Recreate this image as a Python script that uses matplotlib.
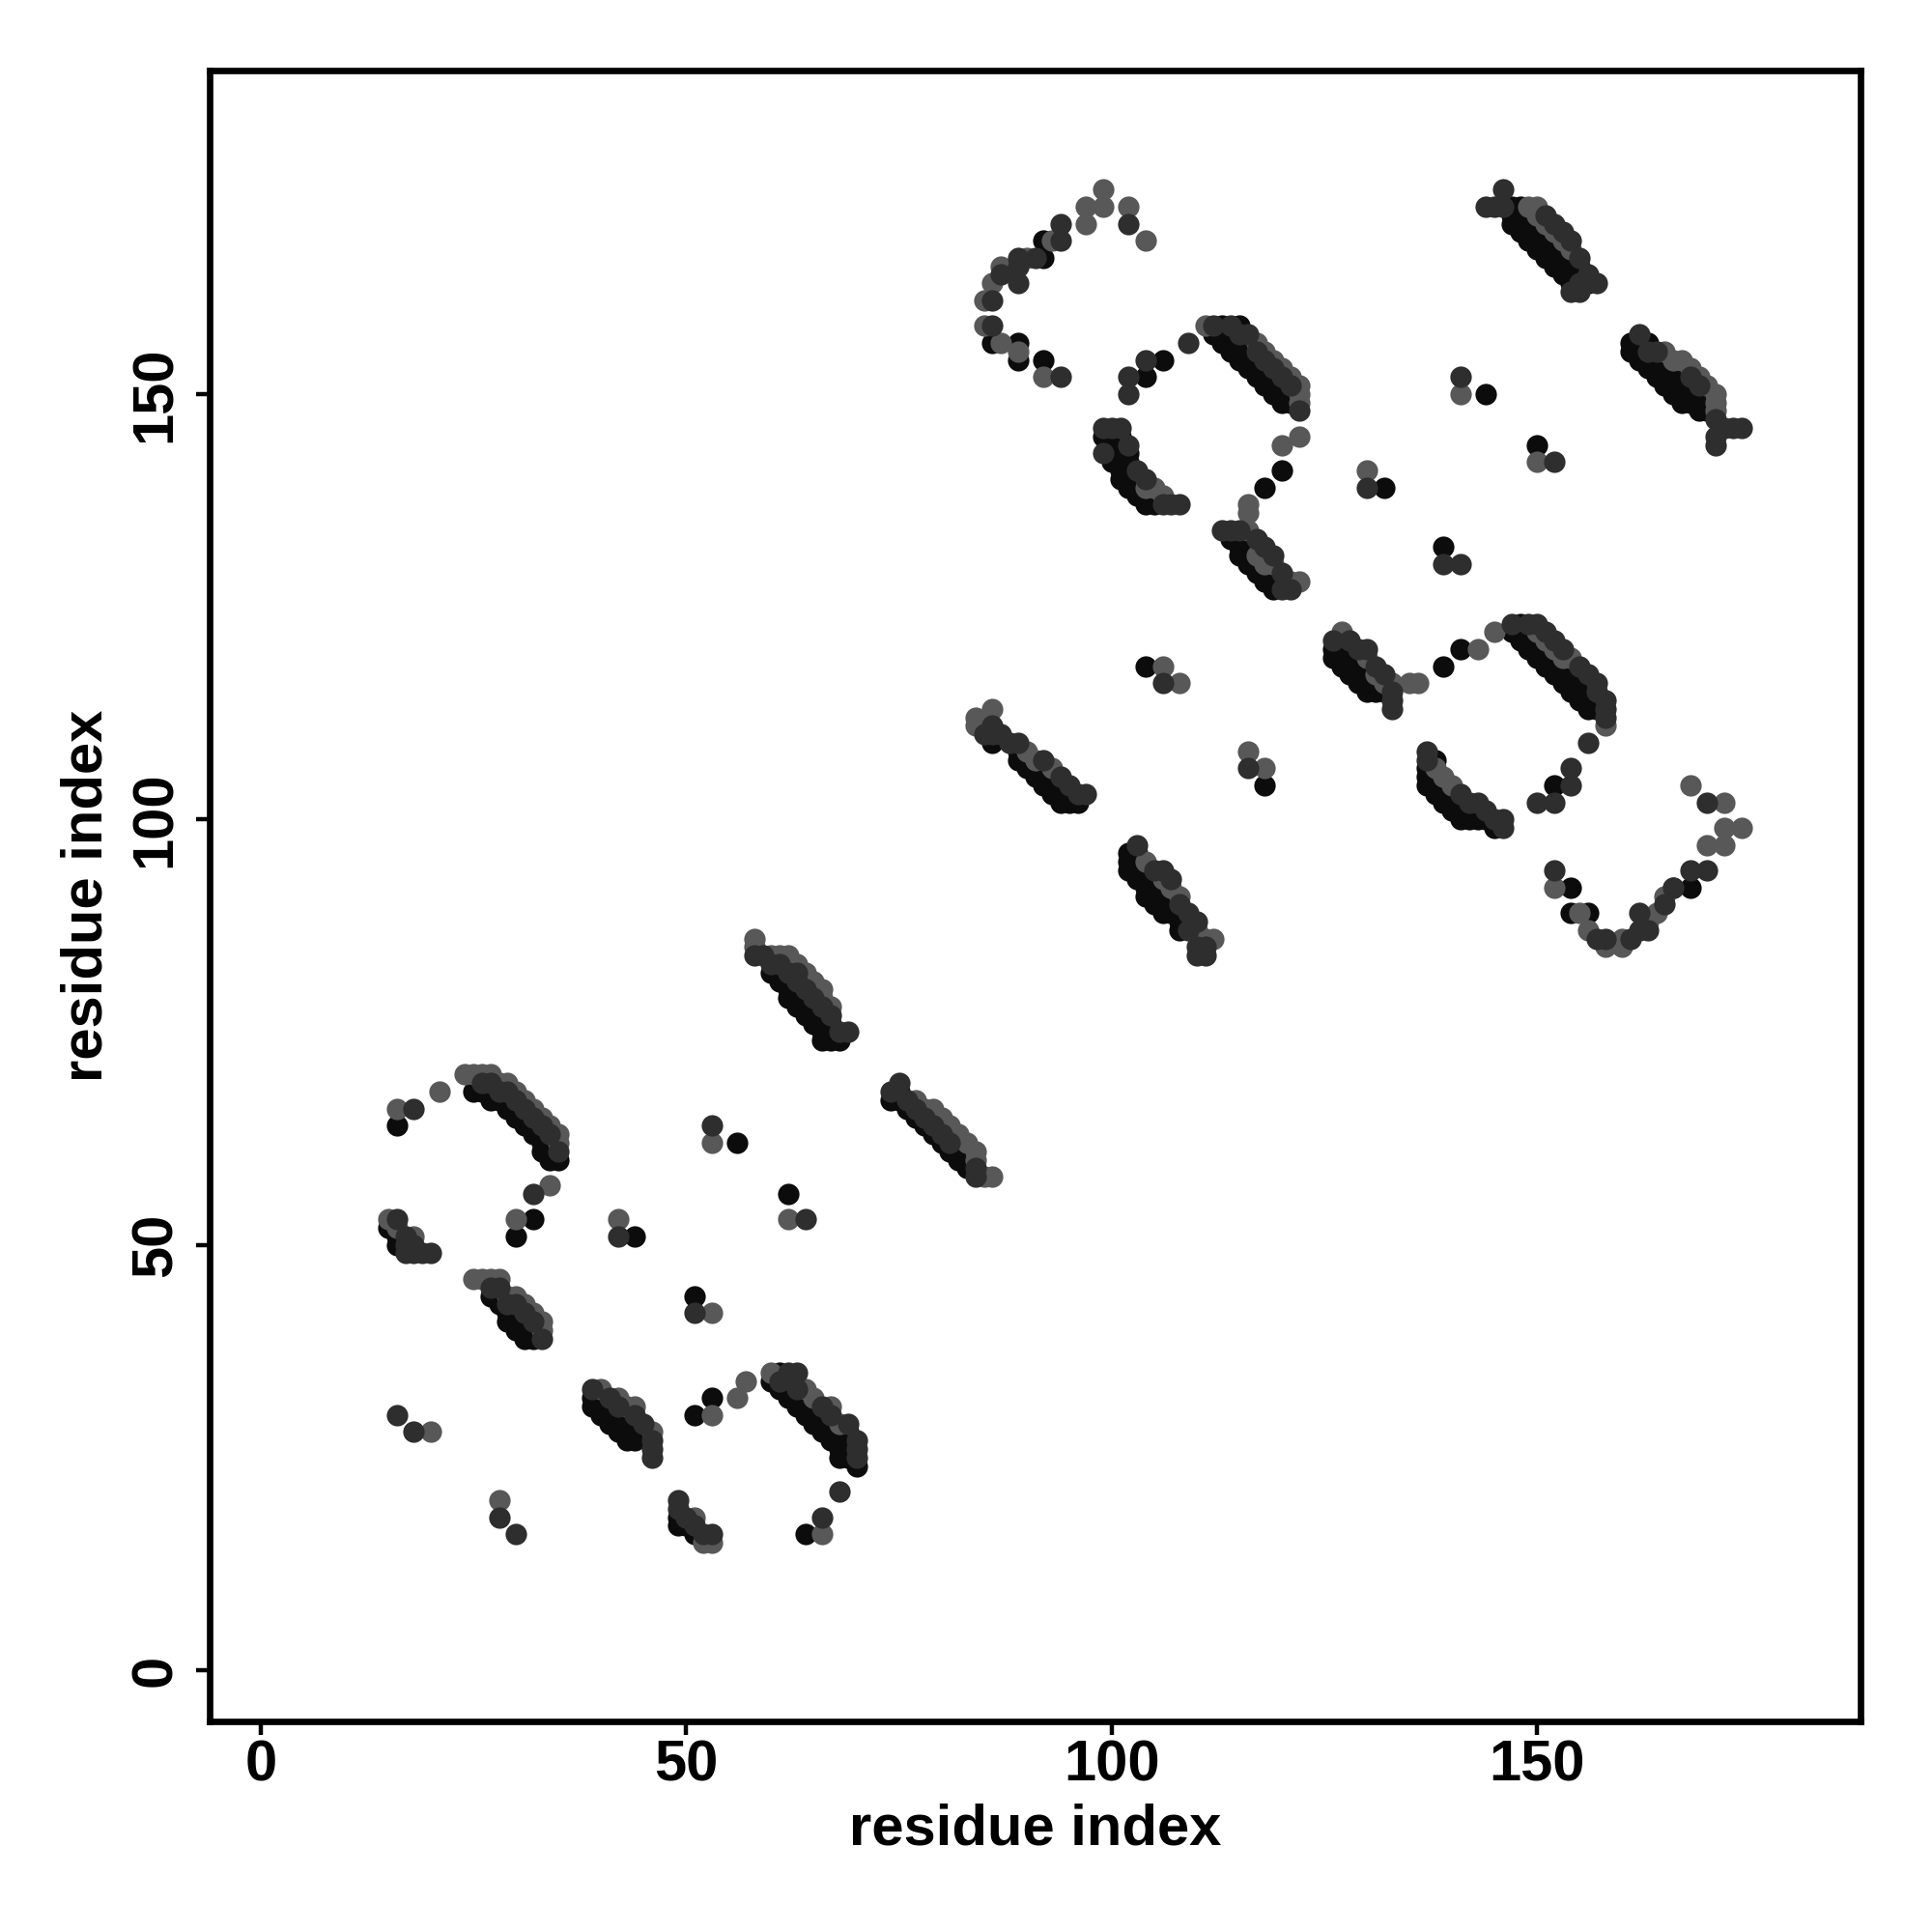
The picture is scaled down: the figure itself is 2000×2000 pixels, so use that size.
import matplotlib
matplotlib.use("Agg")
import matplotlib.pyplot as plt

plt.rcParams['font.family'] = ['Liberation Sans', 'DejaVu Sans']
plt.rcParams['font.weight'] = 'bold'

# contact points, split by shade (gray = weaker, black = stronger)
band_gray = [
    (24,70),(25,70),(26,70),(27,70),(28,69),(29,69),(30,68),(31,67),(32,66),(33,65),(34,64),(35,63),(35,62),
    (25,46),(26,46),(27,46),(28,46),(29,44),(30,44),(31,43),(32,42),(33,41),(33,40),
    (15,53),(16,52),(18,51),
    (40,33),(42,32),(43,31),(44,31),(46,28),
    (53,15),(52,15),(51,18),
    (60,35),(64,33),(65,32),(67,31),(68,29),
    (58,86),(58,85),(60,84),(61,84),(62,84),(62,83),(63,83),(64,82),(64,81),(65,81),(65,80),(66,80),(66,79),(67,78),
    (77,67),(78,66),(79,66),(80,65),(81,64),(82,63),(83,62),(84,61),(84,60),(85,58),(86,58),
    (84,112),(86,113),(84,111),(85,111),(90,108),(91,107),(93,106),
    (104,95),(106,93),(107,92),(108,91),(110,87),(111,86),(112,86),
    (111,158),(117,156),(118,155),(119,154),(120,153),(121,152),(122,151),(122,150),(122,149),
    (104,139),(105,139),(106,138),
    (117,131),(118,130),(119,130),(121,128),(122,128),(116,134),
    (127,122),(130,119),(131,117),(132,116),(133,116),(135,116),(136,116),
    (150,122),(151,121),(152,120),(153,119),(154,119),(158,111),
    (138,106),(140,104),(139,105),
    (149,172),(150,172),(150,171),(151,170),(152,169),(153,168),(154,167),
    (165,155),(166,154),(167,154),(168,153),(169,152),(170,151),(171,150),(171,149),(171,148),
]
band_dark = [
    (26,69),(27,69),(28,68),(29,68),(30,67),(31,66),(32,65),(33,64),(34,63),(35,61),
    (27,45),(28,45),(29,43),(30,43),(31,42),(32,41),(33,39),
    (16,53),(17,51),(17,50),(18,50),(17,49),(18,49),(19,49),(20,49),
    (39,33),(41,32),(42,31),(44,30),(45,29),(46,27),(46,26),(46,25),
    (49,20),(49,19),(50,18),(51,17),(52,16),(53,16),
    (62,35),(63,35),(61,34),(63,33),(66,31),(67,30),(69,29),(70,27),(70,26),(70,25),
    (58,84),(59,84),(60,83),(61,83),(62,82),(63,82),(63,81),(64,80),(65,79),(66,78),(67,77),(68,75),(69,75),
    (75,69),(74,68),(76,67),(77,66),(78,65),(79,64),(80,63),(81,62),(84,59),(84,58),
    (86,111),(85,110),(86,110),(87,110),(88,109),(89,109),(92,107),(94,105),(95,104),(96,103),(97,103),
    (103,97),(105,94),(106,94),(107,93),(108,90),(109,89),(110,88),(109,87),(110,85),(111,85),(111,84),(110,84),
    (112,158),(114,158),(115,157),(116,157),(117,155),(118,154),(119,153),(120,152),(121,151),(122,148),
    (99,146),(100,146),(101,146),(102,144),(99,143),(103,141),(104,140),(107,137),(108,137),(106,137),
    (113,134),(114,134),(115,134),(117,133),(118,132),(119,131),(120,129),(121,127),(120,127),
    (126,121),(128,121),(129,120),(130,120),(131,118),(132,117),(133,115),(133,114),(133,113),
    (147,123),(149,123),(150,123),(151,122),(152,121),(153,120),(155,118),(156,117),(157,116),(157,115),(158,114),(158,113),(158,112),
    (137,108),(137,107),(141,103),(142,102),(143,102),(144,101),(145,100),(146,100),(146,99),
    (146,174),(144,172),(145,172),(146,172),(151,171),(152,170),(153,169),(154,168),(155,166),(156,164),(157,163),(155,163),(154,162),(155,162),
    (162,157),(163,155),(164,155),(168,152),(169,151),(172,146),(173,146),(174,146),(171,145),(171,144),(171,147),
]
band_black = [
    (25,68),(26,68),(27,67),(28,67),(29,66),(30,65),(31,64),(32,63),(33,62),(33,61),(34,62),(34,61),(34,60),(35,60),
    (27,44),(28,44),(28,43),(29,42),(30,42),(29,41),(30,41),(31,41),(30,40),(31,40),(32,40),(31,39),(32,39),
    (15,52),(16,51),(16,50),
    (39,32),(40,32),(39,31),(40,31),(41,31),(40,30),(41,30),(42,30),(43,30),(41,29),(42,29),(43,29),(44,29),
    (42,28),(43,28),(44,28),(43,27),(44,27),(45,28),
    (49,18),(49,17),(50,17),(51,16),
    (61,35),(60,34),(62,34),(61,33),(62,33),(62,32),(63,32),(64,32),(63,31),(64,31),(65,31),(64,30),(65,30),(66,30),
    (65,29),(66,29),(67,29),(66,28),(67,28),(68,28),(69,28),(67,27),(68,27),(69,27),(68,26),(69,26),(68,25),(69,25),(70,24),
    (60,82),(61,82),(61,81),(62,81),(62,80),(63,80),(62,79),(63,79),(64,79),(63,78),(64,78),(65,78),(64,77),(65,77),(66,77),
    (65,76),(66,76),(67,76),(66,75),(67,75),(66,74),(67,74),(68,74),
    (75,68),(74,67),(75,67),(76,66),(77,65),(78,64),(79,63),(80,62),(81,61),(82,61),(82,60),(83,60),(83,59),(80,64),
    (86,109),(89,108),(89,107),(90,107),(90,106),(91,106),(92,106),(91,105),(92,105),(93,105),(92,104),(93,104),(94,104),
    (93,103),(94,103),(95,103),(94,102),(95,102),(96,102),
    (102,96),(103,96),(102,95),(103,95),(102,94),(103,94),(104,94),(103,93),(104,93),(105,93),(104,92),(105,92),(106,92),
    (104,91),(105,91),(106,91),(107,91),(105,90),(106,90),(107,90),(106,89),(107,89),(108,89),(108,88),(109,88),(108,87),
    (113,158),(115,158),(112,157),(113,157),(114,157),(113,156),(114,156),(115,156),(116,156),(114,155),(115,155),(116,155),
    (115,154),(116,154),(117,154),(116,153),(117,153),(118,153),(117,152),(118,152),(119,152),(118,151),(119,151),(120,151),
    (119,150),(120,150),(121,150),(120,149),(121,149),
    (99,145),(100,145),(101,145),(100,144),(101,144),(100,143),(101,143),(102,143),(100,142),(101,142),(102,142),(101,141),
    (102,141),(101,140),(102,140),(103,140),(102,139),(103,139),(103,138),(104,138),(105,138),(104,137),(105,137),
    (114,133),(115,133),(116,133),(115,132),(116,132),(117,132),(115,131),(116,131),(116,130),(117,130),(117,129),(118,129),
    (119,129),(118,128),(119,128),(120,128),(119,127),
    (127,121),(126,120),(127,120),(128,120),(126,119),(127,119),(128,119),(129,119),(127,118),(128,118),(129,118),(130,118),
    (128,117),(129,117),(130,117),(129,116),(130,116),(131,116),(130,115),(131,115),(132,115),
    (148,123),(147,122),(148,122),(149,122),(148,121),(149,121),(150,121),(149,120),(150,120),(151,120),(150,119),(151,119),
    (152,119),(151,118),(152,118),(153,118),(154,118),(152,117),(153,117),(154,117),(155,117),(153,116),(154,116),(155,116),
    (156,116),(154,115),(155,115),(156,115),(155,114),(156,114),(157,114),(156,113),(157,113),
    (138,107),(137,106),(137,105),(138,105),(137,104),(138,104),(139,104),(138,103),(139,103),(140,103),(139,102),(140,102),
    (141,102),(140,101),(141,101),(142,101),(143,101),(141,100),(142,100),(143,100),(144,100),(145,99),
    (147,172),(148,172),(147,171),(148,171),(149,171),(147,170),(148,170),(149,170),(150,170),(148,169),(149,169),(150,169),
    (151,169),(149,168),(150,168),(151,168),(152,168),(150,167),(151,167),(152,167),(153,167),(151,166),(152,166),(153,166),
    (154,166),(152,165),(153,165),(154,165),(155,165),(153,164),(154,164),(155,164),(154,163),(156,163),
    (161,156),(162,156),(163,156),(161,155),(162,155),(162,154),(163,154),(164,154),(165,154),(163,153),(164,153),(165,153),
    (166,153),(167,153),(164,152),(165,152),(166,152),(167,152),(165,151),(166,151),(167,151),(168,151),(166,150),(167,150),
    (168,150),(169,150),(170,150),(167,149),(168,149),(169,149),(170,149),(169,148),(170,148),
]

# isolated contacts
single_gray = [
    (16,66),(21,68),(34,57),(30,53),(20,28),(28,20),(42,53),(53,42),(53,30),(56,32),(57,34),(66,16),(53,62),(62,53),
    (99,174),(97,172),(99,172),(102,172),(97,170),(104,168),(93,168),(90,166),(87,165),(86,163),(85,161),(85,158),
    (87,156),(89,155),(92,152),
    (106,118),(108,116),(116,108),(118,106),(122,145),(120,144),(116,137),(116,136),(130,141),(143,120),(145,122),
    (141,150),(150,142),(168,104),(172,102),(172,99),(174,99),(170,97),(172,97),(152,92),(155,89),(156,87),(158,85),
    (160,86),(160,85),(163,88),(164,89),(165,91),
]
single_dark = [
    (18,66),(32,56),(16,30),(18,28),(28,18),(30,16),(42,51),(51,42),(68,21),(66,18),(53,64),(64,53),
    (94,170),(102,170),(94,168),(89,166),(91,166),(89,165),(87,164),(89,163),(86,161),(86,158),(94,152),(102,152),
    (102,150),(104,154),(109,156),
    (106,116),(116,106),(130,139),(139,130),(141,130),(156,109),(154,106),(154,104),(152,102),(150,102),
    (141,152),(152,142),(170,102),(170,94),(168,94),(166,92),(152,94),(158,86),(157,86),(161,86),(162,87),(163,87),
    (162,89),(165,90),
]
single_black = [
    (16,64),(32,53),(30,51),(44,51),(51,44),(53,32),(51,30),(64,16),(56,62),(62,56),
    (92,168),(92,166),(86,156),(89,156),(89,154),(92,154),(104,152),(106,154),
    (104,118),(118,104),(120,141),(118,139),(132,139),(139,132),(139,118),(141,120),(152,104),(144,150),(150,144),
    (168,92),(154,92),(154,89),(156,89),(166,92),
]

# drawing order: black, then gray, then dark on top (mixes the shades like the original)
shades = [
    (band_black + single_black, '#0c0c0c'),
    (band_gray + single_gray, '#585858'),
    (band_dark + single_dark, '#2e2e2e'),
]

fig = plt.figure(figsize=(10, 10), dpi=200)
ax = fig.add_axes([0.1085, 0.109, 0.8545, 0.8545])
for pts, col in shades:
    xs = [p[0] for p in pts]
    ys = [p[1] for p in pts]
    ax.scatter(xs, ys, s=64, c=col, linewidths=0, zorder=2)

ax.set_xlim(-6, 188)
ax.set_ylim(-6, 188)
ax.set_xticks([0, 50, 100, 150])
ax.set_yticks([0, 50, 100, 150])
ax.tick_params(length=5, width=1.6, labelsize=21.5)
ax.tick_params(axis='x', pad=1.5)
ax.tick_params(axis='y', pad=5)
for lab in ax.get_yticklabels():
    lab.set_rotation(90)
    lab.set_va('center')
for sp in ax.spines.values():
    sp.set_linewidth(2.4)
ax.set_xlabel("residue index", fontsize=21.5, fontweight='bold', labelpad=4)
ax.set_ylabel("residue index", fontsize=21.5, fontweight='bold', labelpad=6)

fig.savefig("out.png", dpi=200)
